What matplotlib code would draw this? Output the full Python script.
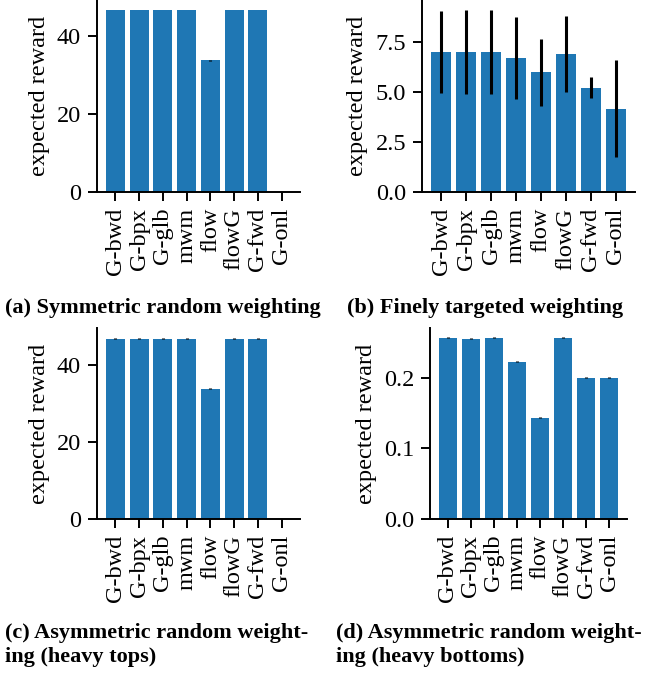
import matplotlib
matplotlib.use("Agg")
import matplotlib.pyplot as plt
import numpy as np

plt.rcParams['font.family'] = ['Liberation Serif', 'DejaVu Serif']

methods = ["G-bwd", "G-bpx", "G-glb", "mwm", "flow", "flowG", "G-fwd", "G-onl"]

# (a) Symmetric random weighting
vals_a = [46.75, 46.75, 46.75, 46.75, 33.8, 46.75, 46.75, 0.0]
err_a = [0.08, 0.08, 0.08, 0.08, 0.08, 0.08, 0.08, 0.0]
# (b) Finely targeted weighting
vals_b = [6.98, 7.0, 7.0, 6.68, 5.98, 6.88, 5.22, 4.17]
err_b = [2.05, 2.08, 2.08, 2.05, 1.66, 1.9, 0.53, 2.43]
# (c) Asymmetric random weighting (heavy tops)
vals_c = [46.75, 46.75, 46.75, 46.75, 33.8, 46.75, 46.75, 0.0]
err_c = [0.08, 0.08, 0.08, 0.08, 0.08, 0.08, 0.08, 0.0]
# (d) Asymmetric random weighting (heavy bottoms)
vals_d = [0.2565, 0.255, 0.2565, 0.2225, 0.1433, 0.2565, 0.2, 0.2]
err_d = [0.0004, 0.0008, 0.0004, 0.0004, 0.0004, 0.0004, 0.0004, 0.0004]

captions = ["(a) Symmetric random weighting",
            "(b) Finely targeted weighting",
            "(c) Asymmetric random weight-\ning (heavy tops)",
            "(d) Asymmetric random weight-\ning (heavy bottoms)"]

W, H = 650, 679
fig = plt.figure(figsize=(W / 100, H / 100), dpi=100)

def px_axes(l, t, r, b):
    return fig.add_axes([l / W, 1 - b / H, (r - l) / W, (b - t) / H])

FS = 17.5
CFS = 16
BAR = "#1f77b4"

panels = [
    ((97, 0, 300, 192), vals_a, err_a, (0, 49.3), [0, 20, 40], ["0", "20", "40"]),
    ((422, 0, 635, 192), vals_b, err_b, (0, 9.6), [0, 2.5, 5.0, 7.5], ["0.0", "2.5", "5.0", "7.5"]),
    ((97, 328, 300, 519), vals_c, err_c, (0, 49.5), [0, 20, 40], ["0", "20", "40"]),
    ((430, 328, 627, 519), vals_d, err_d, (0, 0.27), [0, 0.1, 0.2], ["0.0", "0.1", "0.2"]),
]

x = np.arange(len(methods))
for (box, vals, errs, ylim, yt, ytl) in panels:
    ax = px_axes(*box)
    ax.bar(x, vals, width=0.8, color=BAR, zorder=2)
    ax.errorbar(x, vals, yerr=errs, fmt="none", ecolor="black", elinewidth=2.2, capsize=0, zorder=3)
    ax.set_xlim(-0.78, 7.78)
    ax.set_ylim(*ylim)
    ax.set_yticks(yt)
    ax.set_yticklabels(ytl)
    ax.set_xticks(x)
    ax.set_xticklabels(methods, rotation=90)
    ax.set_ylabel("expected reward", fontsize=FS, labelpad=5)
    for s in ["top", "right"]:
        ax.spines[s].set_visible(False)
    for s in ["left", "bottom"]:
        ax.spines[s].set_linewidth(1.4)
    ax.tick_params(axis="both", labelsize=FS, length=6.5, width=1.4, pad=5)

# captions
fig.text(5 / W, 1 - 308 / H, captions[0], fontsize=CFS, fontweight="bold", va="center", ha="left")
fig.text(347 / W, 1 - 308 / H, captions[1], fontsize=CFS, fontweight="bold", va="center", ha="left")
fig.text(5 / W, 1 - 645 / H, captions[2], fontsize=CFS, fontweight="bold", va="center", ha="left", linespacing=1.25)
fig.text(336 / W, 1 - 645 / H, captions[3], fontsize=CFS, fontweight="bold", va="center", ha="left", linespacing=1.25)

fig.savefig("out.png", dpi=100)
